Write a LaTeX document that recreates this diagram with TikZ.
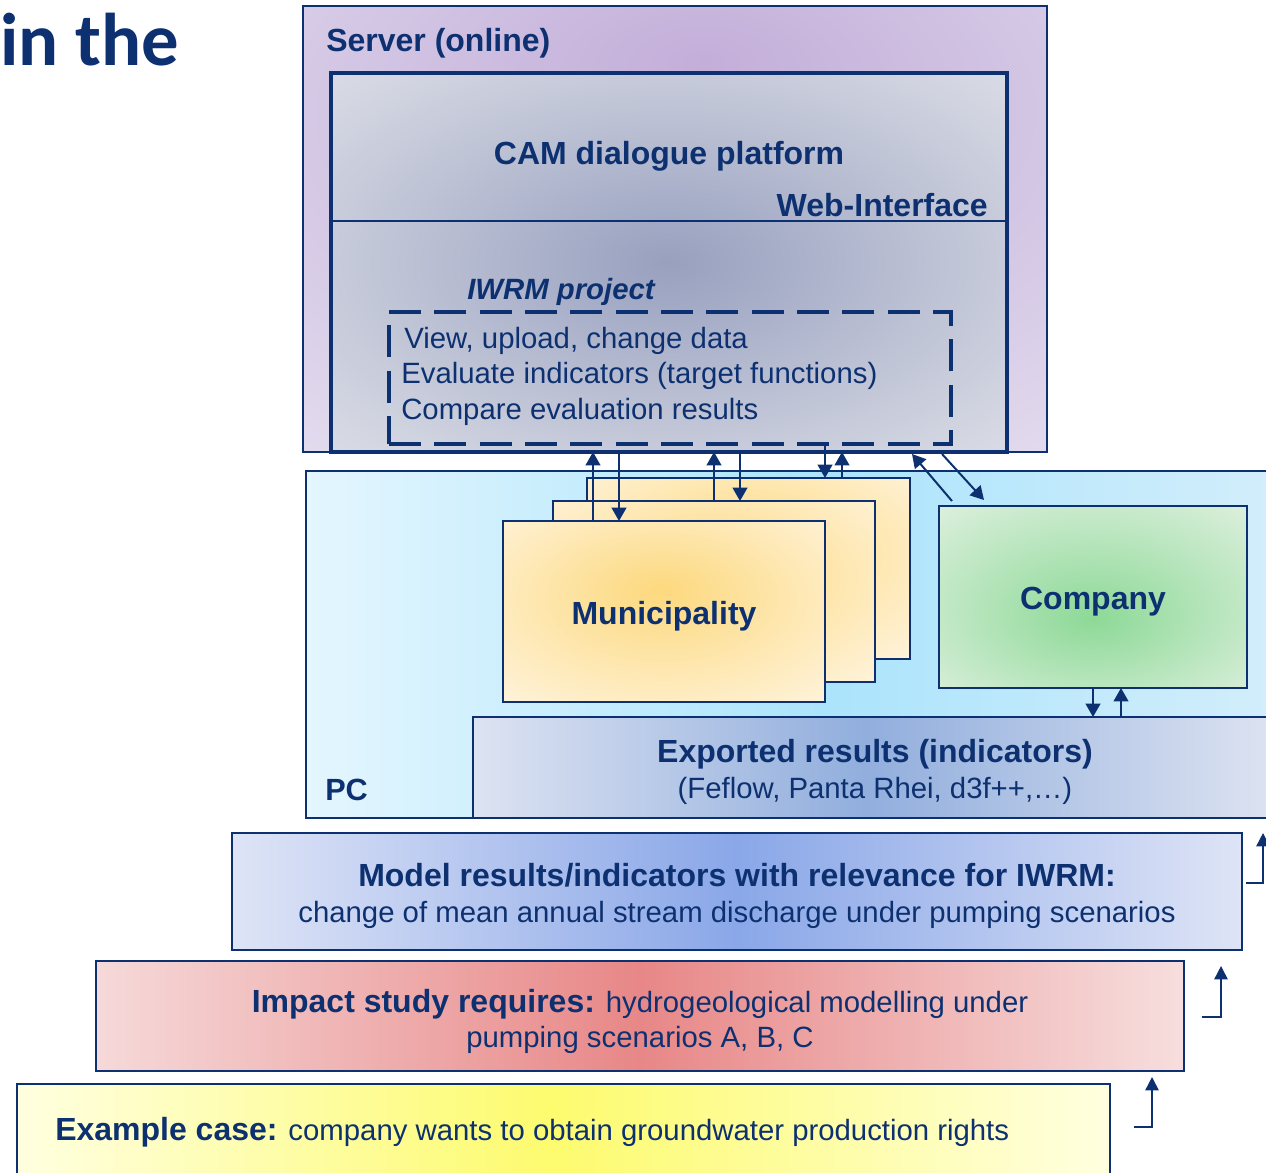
\documentclass[tikz,border=0pt]{standalone}
\usepackage{fontspec}
\setmainfont{Liberation Sans}
\newfontfamily\titlefont{Carlito}
\usetikzlibrary{arrows.meta,fit}
\definecolor{navy}{HTML}{0D3170}
\definecolor{srvIn}{HTML}{C3AED9}
\definecolor{srvMid}{HTML}{D6CAE6}
\definecolor{srvOut}{HTML}{E9E4F2}
\definecolor{camIn}{HTML}{98A0BF}
\definecolor{camOut}{HTML}{D4D7E2}
\definecolor{camOut2}{HTML}{E0E2EA}
\definecolor{pcL}{HTML}{E4F6FE}
\definecolor{pcIn}{HTML}{ABE4FC}
\definecolor{pcR}{HTML}{D4EEFB}
\definecolor{muIn}{HTML}{FDD97E}
\definecolor{muOut}{HTML}{FEF2D8}
\definecolor{coIn}{HTML}{8DD997}
\definecolor{coOut}{HTML}{DAEFDB}
\definecolor{exL}{HTML}{DDE3F2}
\definecolor{exIn}{HTML}{91AEDD}
\definecolor{exR}{HTML}{E0E5F2}
\definecolor{moOut}{HTML}{DEE4F6}
\definecolor{moIn}{HTML}{8AA7E8}
\definecolor{imL}{HTML}{F6D9D9}
\definecolor{imIn}{HTML}{E88787}
\definecolor{imR}{HTML}{F7DEDE}
\definecolor{eaOut}{HTML}{FFFFE0}
\definecolor{eaIn}{HTML}{FDFB6E}
% TikZ maps a path's bounding box onto the 25bp..75bp part of a shading
\pgfdeclareradialshading{shServer}{\pgfpoint{2bp}{19bp}}{color(0bp)=(srvIn); color(28bp)=(srvMid); color(50bp)=(srvOut); color(75bp)=(srvOut)}
\pgfdeclareradialshading{shCam}{\pgfpointorigin}{color(0bp)=(camIn); color(32bp)=(camOut); color(42bp)=(camOut2); color(55bp)=(camOut2)}
\pgfdeclareradialshading{shMu}{\pgfpoint{-0.5bp}{6bp}}{color(0bp)=(muIn); color(36bp)=(muOut); color(55bp)=(muOut)}
\pgfdeclareradialshading{shCo}{\pgfpoint{0bp}{-6bp}}{color(0bp)=(coIn); color(36bp)=(coOut); color(55bp)=(coOut)}
\pgfdeclarehorizontalshading{shPC}{100bp}{color(0bp)=(pcL); color(25bp)=(pcL); color(51.5bp)=(pcIn); color(75bp)=(pcR); color(100bp)=(pcR)}
\pgfdeclarehorizontalshading{shEx}{100bp}{color(0bp)=(exL); color(25bp)=(exL); color(49bp)=(exIn); color(75bp)=(exR); color(100bp)=(exR)}
\pgfdeclarehorizontalshading{shMo}{100bp}{color(0bp)=(moOut); color(25bp)=(moOut); color(50bp)=(moIn); color(75bp)=(moOut); color(100bp)=(moOut)}
\pgfdeclarehorizontalshading{shIm}{100bp}{color(0bp)=(imL); color(25bp)=(imL); color(50bp)=(imIn); color(75bp)=(imR); color(100bp)=(imR)}
\pgfdeclarehorizontalshading{shEa}{100bp}{color(0bp)=(eaOut); color(25bp)=(eaOut); color(49.5bp)=(eaIn); color(75bp)=(eaOut); color(100bp)=(eaOut)}
\begin{document}
\begin{tikzpicture}[x=0.75pt,y=-0.75pt,
  box/.style={draw=navy, line width=1.5pt, inner sep=0pt, outer sep=0pt},
  lbl/.style={font=\fontsize{24}{28}\selectfont\bfseries, text=navy, inner sep=0pt},
  txt/.style={font=\fontsize{22}{26}\selectfont, text=navy, inner sep=0pt},
  arr/.style={draw=navy, line width=1.5pt, -{Triangle[length=10pt,width=11pt]}},
  stair/.style={draw=navy, line width=1.2pt, -{Triangle[length=10pt,width=10pt]}}]
\clip (0,0) rectangle (1266,1172);
\fill[white] (0,0) rectangle (1266,1172);
% title
\node[font=\titlefont\fontsize{56}{60}\selectfont\bfseries, text=navy, anchor=base west, inner sep=0pt] (title) at (0,65) {in the};
% server
\node[box, shading=shServer, fit={(303,6)(1047,452)}] (server) {};
\node[lbl, anchor=base west] (serverlbl) at (326,51) {Server (online)};
\node[box, line width=2.6pt, shading=shCam, fit={(331,73)(1007,452)}] (cam) {};
\draw[navy, line width=1.5pt] (cam.west |- 0,221) -- (cam.east |- 0,221);
\node[lbl, anchor=base] (camlbl) at (669,164) {CAM dialogue platform};
\node[lbl, anchor=base east] (weblbl) at (988,216) {Web-Interface};
\node[font=\fontsize{22}{26}\selectfont\bfseries\itshape, text=navy, inner sep=0pt, anchor=base west] (iwrmlbl) at (467,299) {IWRM project};
\node[draw=navy, line width=2.6pt, dash pattern=on 24pt off 10pt, inner sep=0pt, fit={(389,312)(951,444)}] (iwrm) {};
\node[txt, anchor=base west] (t1) at (404,348) {View, upload, change data};
\node[txt, anchor=base west] (t2) at (401,383) {Evaluate indicators (target functions)};
\node[txt, anchor=base west] (t3) at (401,419) {Compare evaluation results};
% PC
\node[box, shading=shPC, fit={(306,471)(1290,818)}] (pc) {};
\node[lbl, font=\fontsize{23}{26}\selectfont\bfseries, anchor=base west] (pclbl) at (325,800) {PC};
% municipality stack
\node[box, line width=1.9pt, shading=shMu, fit={(587,478)(910,659)}] (back) {};
\node[box, line width=1.9pt, shading=shMu, fit={(553,501)(875,682)}] (mid) {};
\node[box, line width=1.9pt, shading=shMu, fit={(503,521)(825,702)}] (front) {};
\node[lbl, anchor=base] (mulbl) at (664,624) {Municipality};
% company
\node[box, shading=shCo, fit={(939,506)(1247,688)}] (company) {};
\node[lbl, anchor=base] (colbl) at (1093,609) {Company};
% exported
\node[box, shading=shEx, fit={(473,717)(1290,818)}] (exported) {};
\node[lbl, anchor=base] (exlbl) at (875,762) {Exported results (indicators)};
\node[txt, anchor=base] (exsub) at (875,798) {(Feflow, Panta Rhei, d3f++,\dots)};
% model
\node[box, line width=1.9pt, shading=shMo, fit={(232,833)(1242,950)}] (model) {};
\node[lbl, anchor=base] (molbl) at (737,886) {Model results/indicators with relevance for IWRM:};
\node[txt, anchor=base] (mosub) at (737,922) {change of mean annual stream discharge under pumping scenarios};
% impact
\node[box, line width=1.9pt, shading=shIm, fit={(96,961)(1184,1071)}] (impact) {};
\node[txt, anchor=base] (imlbl) at (640,1012) {{\fontsize{24}{28}\selectfont\bfseries Impact study requires:} hydrogeological modelling under};
\node[txt, anchor=base] (imsub) at (640,1047) {pumping scenarios A, B, C};
% example
\node[box, line width=1.9pt, shading=shEa, fit={(17,1084)(1110,1190)}] (example) {};
\node[txt, anchor=base west] (ealbl) at (55,1140) {{\fontsize{24}{28}\selectfont\bfseries Example case:} company wants to obtain groundwater production rights};
% arrows server <-> municipalities
\draw[arr] (593,0 |- front.north) -- (593,0 |- cam.south);
\draw[arr] (619,0 |- cam.south) -- (619,0 |- front.north);
\draw[arr] (714,0 |- mid.north) -- (714,0 |- cam.south);
\draw[arr] (740,0 |- cam.south) -- (740,0 |- mid.north);
\draw[arr] (825,0 |- iwrm.south) -- (825,0 |- back.north);
\draw[arr] (842,0 |- back.north) -- (842,0 |- cam.south);
% company diagonals
\coordinate (d1s) at (952,501);
\coordinate (d1e) at (912,454);
\coordinate (d2s) at (942,454);
\coordinate (d2e) at (984,500);
\draw[arr] (d1s) -- (d1e);
\draw[arr] (d2s) -- (d2e);
% company <-> exported
\draw[arr] (1093,0 |- company.south) -- (1093,0 |- exported.north);
\draw[arr] (1121,0 |- exported.north) -- (1121,0 |- company.south);
% stair arrows
\coordinate (s1a) at (1246,883);
\coordinate (s1b) at (1263,883);
\coordinate (s1c) at (1263,833);
\draw[stair] (s1a) -- (s1b) -- (s1c);
\coordinate (s2a) at (1202,1017);
\coordinate (s2b) at (1221,1017);
\coordinate (s2c) at (1221,966);
\draw[stair] (s2a) -- (s2b) -- (s2c);
\coordinate (s3a) at (1134,1127);
\coordinate (s3b) at (1152,1127);
\coordinate (s3c) at (1152,1077);
\draw[stair] (s3a) -- (s3b) -- (s3c);
\end{tikzpicture}
\end{document}
